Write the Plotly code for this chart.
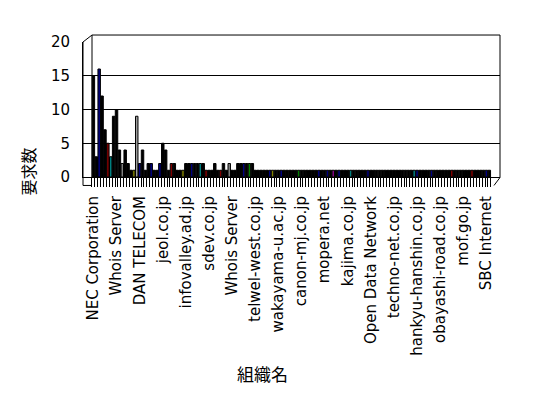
import plotly.graph_objects as go

# ---- data ----
values = [15, 3, 16, 12, 7, 5, 3, 9, 10, 4, 2, 4, 2, 1, 1, 9, 2, 4, 1, 2,
          2, 1, 1, 2, 5, 4, 1, 2, 2, 1, 1, 1, 2, 2, 2, 2, 2, 2, 2, 1,
          1, 1, 2, 1, 1, 2, 1, 2, 1, 1, 2, 2, 2, 2, 2, 2] + [1] * 82
label_positions = [0, 8, 16, 24, 32, 40, 48, 56, 64, 72, 80, 88, 96, 104, 112, 120, 128, 136]
label_texts = ["NEC Corporation", "Whois Server", "DAN TELECOM", "jeol.co.jp",
               "infovalley.ad.jp", "sdev.co.jp", "Whois Server", "telwel-west.co.jp",
               "wakayama-u.ac.jp", "canon-mj.co.jp", "mopera.net", "kajima.co.jp",
               "Open Data Network", "techno-net.co.jp", "hankyu-hanshin.co.jp",
               "obayashi-road.co.jp", "mof.go.jp", "SBC Internet"]
colored_points = {2: "#000080", 5: "#800000", 6: "#008080", 10: "#808080", 14: "#808000",
                  15: "#a0a0a0", 16: "#000080", 20: "#000080", 23: "#000080", 27: "#800000",
                  31: "#808000", 34: "#000080", 37: "#008080", 39: "#800000", 44: "#800000",
                  47: "#808080", 52: "#000080", 54: "#008000", 61: "#000080", 62: "#808000",
                  65: "#000080", 71: "#008000", 78: "#000080", 81: "#000080", 83: "#800080",
                  85: "#000080", 89: "#008080", 95: "#000080", 111: "#008080", 112: "#000080",
                  117: "#000080", 124: "#800000", 131: "#800000", 136: "#000080"}

N = len(values)
cats = list(range(N))
colors = [colored_points.get(i, "black") for i in cats]

W, H = 548, 398
L, R, T, B = 83, 500, 42, 177.5
PX_PER_CAT = 2.89
x_lo = -(93.4 - L) / PX_PER_CAT
x_hi = x_lo + (R - L) / PX_PER_CAT


def px(x):
    return (x - L) / (R - L)


def py(y):
    return (B - y) / (B - T)


fig = go.Figure()
fig.add_trace(go.Bar(x=cats, y=values, width=0.85,
                     marker=dict(color=colors, line=dict(color="black", width=1)),
                     showlegend=False, hoverinfo="skip"))

font = "DejaVu Sans"
fig.update_layout(
    template="none",
    width=W, height=H,
    margin=dict(l=L, r=W - R, t=T, b=H - B, pad=0),
    paper_bgcolor="white", plot_bgcolor="white",
    bargap=0,
    font=dict(family=font, color="black", size=14),
    xaxis=dict(range=[x_lo, x_hi], tickmode="array", tickvals=label_positions,
               ticktext=label_texts, tickangle=-90, ticks="", showgrid=False,
               automargin=False,
               zeroline=False, showline=True, linecolor="black", linewidth=1,
               tickfont=dict(family=font, size=15, color="black"), ticklabelstandoff=12,
               minor=dict(tickmode="array", tickvals=[i - 0.5 for i in range(N + 1)],
                          ticks="outside", ticklen=9, tickcolor="black", tickwidth=1,
                          showgrid=False)),
    yaxis=dict(range=[0, 20], dtick=5, tick0=0, showgrid=True, gridcolor="black",
               gridwidth=1, zeroline=False, showline=True, linecolor="black",
               automargin=False,
               ticks="", tickfont=dict(family=font, size=15, color="black"),
               ticklabelstandoff=9),
)

frame = [
    ((83, 42), (92, 35)),
    ((92, 35), (500, 35)),
    ((92, 35), (92, 178)),
    ((500, 35), (500, 178)),
    ((83, 42), (83, 186)),
    ((83, 186), (92, 186)),
    ((494, 186), (500, 178)),
]
for (x0, y0), (x1, y1) in frame:
    fig.add_shape(type="line", xref="paper", yref="paper",
                  x0=px(x0), y0=py(y0), x1=px(x1), y1=py(y1),
                  line=dict(color="black", width=1))

fig.add_annotation(text="要求数", xref="paper", yref="paper", x=px(28), y=py(172),
                   xanchor="center", yanchor="middle",
                   showarrow=False, textangle=-90,
                   font=dict(family="Noto Sans CJK JP", size=16, color="black"))
fig.add_annotation(text="組織名", xref="paper", yref="paper", x=px(262), y=py(375),
                   xanchor="center", yanchor="middle",
                   showarrow=False,
                   font=dict(family="Noto Sans CJK JP", size=17, color="black"))

fig.write_html("out.html",
               config={"displayModeBar": False, "staticPlot": True},
               post_script="document.body.style.margin='0';document.body.style.overflow='hidden';")
